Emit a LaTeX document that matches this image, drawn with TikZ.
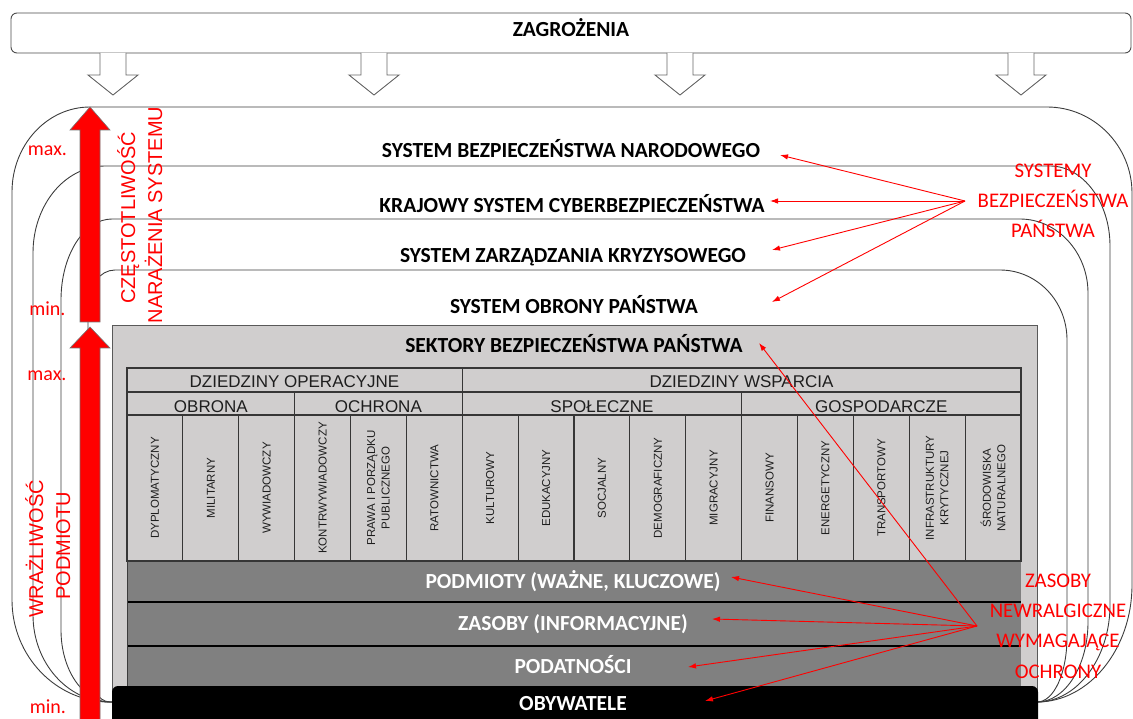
\documentclass[tikz,border=0pt]{standalone}
\usepackage{fontspec}
\setmainfont{Carlito}
\newfontfamily\arialfont{Liberation Sans}
\usetikzlibrary{arrows.meta}
\definecolor{frameline}{RGB}{60,60,60}
\definecolor{sectorgray}{RGB}{208,206,206}
\definecolor{rowgray}{RGB}{128,128,128}
\definecolor{alarm}{RGB}{255,0,0}
\definecolor{inkdark}{RGB}{30,30,30}

\begin{document}
\begin{tikzpicture}[x=1pt,y=-1pt,
  sysline/.style={draw=frameline,line width=0.9pt},
  boldlabel/.style={font=\fontsize{21.5}{24}\selectfont\bfseries,anchor=base,inner sep=0pt,text=black},
  whitelabel/.style={boldlabel,text=white},
  headlabel/.style={font=\arialfont\fontsize{17}{18}\selectfont,anchor=base,inner sep=0pt,text=inkdark},
  collabel/.style={font=\arialfont\fontsize{11.5}{14.5}\selectfont,rotate=90,align=center,inner sep=0pt,text=inkdark},
  redlabel/.style={font=\fontsize{20}{24}\selectfont,anchor=base,inner sep=0pt,text=alarm},
  redvertical/.style={font=\arialfont\fontsize{20}{24}\selectfont,rotate=90,anchor=base,inner sep=0pt,text=alarm},
  note/.style={font=\fontsize{20.8}{30.3}\selectfont,align=center,inner sep=0pt,text=alarm},
  pointer/.style={draw=alarm,line width=0.9pt,-{Latex[length=8pt,width=5.5pt]}},
  tableline/.style={draw=frameline!90!black,line width=1.1pt},
  blockarrow/.style={draw=black!60,fill=white,line width=0.9pt},
  bigarrow/.style={draw=black!55,fill=alarm,line width=0.6pt}
]
\useasboundingbox (0,0) rectangle (1133,719);
\clip (0,0) rectangle (1133,719);

% nested state security systems
\draw[sysline] (12,600) -- (12,192) .. controls (12,145) and (47,107) .. (90,107)
  -- (1047,107) .. controls (1094,107) and (1132,146) .. (1132,193)
  -- (1132,585) .. controls (1132,649) and (1089,702) .. (1037,702)
  -- (110,702) .. controls (56,702) and (12,656) .. (12,600) -- cycle;
\draw[sysline] (33,615) -- (33,253) .. controls (33,205) and (65,166) .. (105,166)
  -- (1050,166) .. controls (1083,166) and (1110,202) .. (1110,246)
  -- (1110,605) .. controls (1110,658) and (1077,702) .. (1037,702)
  -- (110,702) .. controls (68,702) and (33,663) .. (33,615) -- cycle;
\draw[sysline] (61,630) -- (61,300) .. controls (61,255) and (84,219) .. (112,219)
  -- (1020,219) .. controls (1057,219) and (1088,252) .. (1088,293)
  -- (1088,622) .. controls (1088,666) and (1065,702) .. (1037,702)
  -- (110,702) .. controls (83,702) and (61,670) .. (61,630) -- cycle;
\draw[sysline] (88,665) -- (88,305) .. controls (88,286) and (100,270) .. (115,270)
  -- (1000,270) .. controls (1037,270) and (1067,301) .. (1067,340)
  -- (1067,637) .. controls (1067,673) and (1054,702) .. (1037,702)
  -- (110,702) .. controls (98,702) and (88,685) .. (88,665) -- cycle;

% threats bar with its arrows
\draw[draw=black!70,fill=white,line width=0.9pt,rounded corners=6pt] (11,13) rectangle (1131,53);
\node[boldlabel] (threats) at (571,37) {ZAGROŻENIA};
\foreach \c in {113,374,680,1021}
  \draw[blockarrow] ({\c-13},53) -- ({\c-13},75) -- ({\c-25},75) -- (\c,95)
    -- ({\c+25},75) -- ({\c+13},75) -- ({\c+13},53);

% system titles
\node[boldlabel] (sbn) at (571,158) {SYSTEM BEZPIECZEŃSTWA NARODOWEGO};
\node[boldlabel] (ksc) at (572,213) {KRAJOWY SYSTEM CYBERBEZPIECZEŃSTWA};
\node[boldlabel] (szk) at (573,263) {SYSTEM ZARZĄDZANIA KRYZYSOWEGO};
\node[boldlabel] (sop) at (574,314) {SYSTEM OBRONY PAŃSTWA};

% sectors box
\draw[draw=black!65,fill=sectorgray,line width=1pt] (112,326) rectangle (1037,740);
\node[boldlabel] (sektory) at (574,353) {SEKTORY BEZPIECZEŃSTWA PAŃSTWA};

% sectors table
\draw[tableline] (127,368) rectangle (1021,561);
\draw[tableline] (127,392) -- (1021,392);
\draw[tableline] (127,415) -- (1021,415);
\draw[tableline] (462.25,368) -- (462.25,561);
\draw[tableline] (294.6,392) -- (294.6,561);
\draw[tableline] (741.6,392) -- (741.6,561);
\foreach \i in {1,2,4,5,7,8,9,10,12,13,14,15}
  \draw[tableline] ({127+\i*55.875},415) -- ({127+\i*55.875},561);

\node[headlabel] (operacyjne) at (294.5,388) {DZIEDZINY OPERACYJNE};
\node[headlabel] (wsparcia) at (741.5,388) {DZIEDZINY WSPARCIA};
\node[headlabel] (obrona) at (210.8,412) {OBRONA};
\node[headlabel] (ochrona) at (378.4,412) {OCHRONA};
\node[headlabel] (spoleczne) at (601.9,412) {SPOŁECZNE};
\node[headlabel] (gospodarcze) at (881.3,412) {GOSPODARCZE};

\foreach \lab [count=\i] in {{DYPLOMATYCZNY},{MILITARNY},{WYWIADOWCZY},{KONTRWYWIADOWCZY},
  {PRAWA I PORZĄDKU\\PUBLICZNEGO},{RATOWNICTWA},{KULTUROWY},{EDUKACYJNY},{SOCJALNY},
  {DEMOGRAFICZNY},{MIGRACYJNY},{FINANSOWY},{ENERGETYCZNY},{TRANSPORTOWY},
  {INFRASTRUKTURY\\KRYTYCZNEJ},{ŚRODOWISKA\\NATURALNEGO}}
  \node[collabel] (col\i) at ({127+(\i-0.5)*55.875},488) {\lab};

% protected assets rows
\fill[rowgray] (127,561) rectangle (1021,686);
\draw[tableline] (127,561) -- (1021,561);
\draw[black,line width=1.8pt] (127,602) -- (1021,602);
\draw[black,line width=1.8pt] (127,646) -- (1021,646);
\draw[frameline,line width=0.8pt] (127,561) -- (127,686);
\fill[black,rounded corners=6pt] (112,686) rectangle (1038,760);

\node[whitelabel] (podmioty) at (573,588) {PODMIOTY (WAŻNE, KLUCZOWE)};
\node[whitelabel] (zasoby) at (573,630) {ZASOBY (INFORMACYJNE)};
\node[whitelabel] (podatnosci) at (573,673) {PODATNOŚCI};
\node[whitelabel] (obywatele) at (573,710) {OBYWATELE};

% scale arrows on the left
\draw[bigarrow] (80,322) -- (80,130) -- (70,130) -- (90,107) -- (110,130) -- (100,130) -- (100,322) -- cycle;
\draw[bigarrow] (80,740) -- (80,348) -- (70,348) -- (90,327) -- (110,348) -- (100,348) -- (100,740) -- cycle;

\node[redlabel] (max1) at (47.5,156) {max.};
\node[redlabel] (min1) at (47.5,316) {min.};
\node[redlabel] (max2) at (47,381) {max.};
\node[redlabel] (min2) at (48,713) {min.};

\node[redvertical] (czest) at (135,218) {CZĘSTOTLIWOŚĆ};
\node[redvertical] (narazenia) at (162,215) {NARAŻENIA SYSTEMU};
\node[redvertical] (wrazl) at (43,549) {WRAŻLIWOŚĆ};
\node[redvertical] (podm) at (70,546) {PODMIOTU};

% annotations
\node[note] (systemy) at (1053,201) {SYSTEMY\\BEZPIECZEŃSTWA\\PAŃSTWA};
\node[note] (newralgiczne) at (1058,626) {ZASOBY\\NEWRALGICZNE\\WYMAGAJĄCE\\OCHRONY};

\coordinate (hubS) at (965,201);
\coordinate (tipSBN) at (780,155);
\coordinate (tipKSC) at (770,201);
\coordinate (tipSZK) at (772,250);
\coordinate (tipSOP) at (772,302);
\draw[pointer] (hubS) -- (tipSBN);
\draw[pointer] (hubS) -- (tipKSC);
\draw[pointer] (hubS) -- (tipSZK);
\draw[pointer] (hubS) -- (tipSOP);

\coordinate (hubZ) at (977,626);
\coordinate (tipSEK) at (759,343);
\coordinate (tipPOD) at (731,577);
\coordinate (tipZAS) at (712,619);
\coordinate (tipPDN) at (688,667);
\coordinate (tipOBY) at (705,701);
\draw[pointer] (hubZ) -- (tipSEK);
\draw[pointer] (hubZ) -- (tipPOD);
\draw[pointer] (hubZ) -- (tipZAS);
\draw[pointer] (hubZ) -- (tipPDN);
\draw[pointer] (hubZ) -- (tipOBY);
\end{tikzpicture}
\end{document}
